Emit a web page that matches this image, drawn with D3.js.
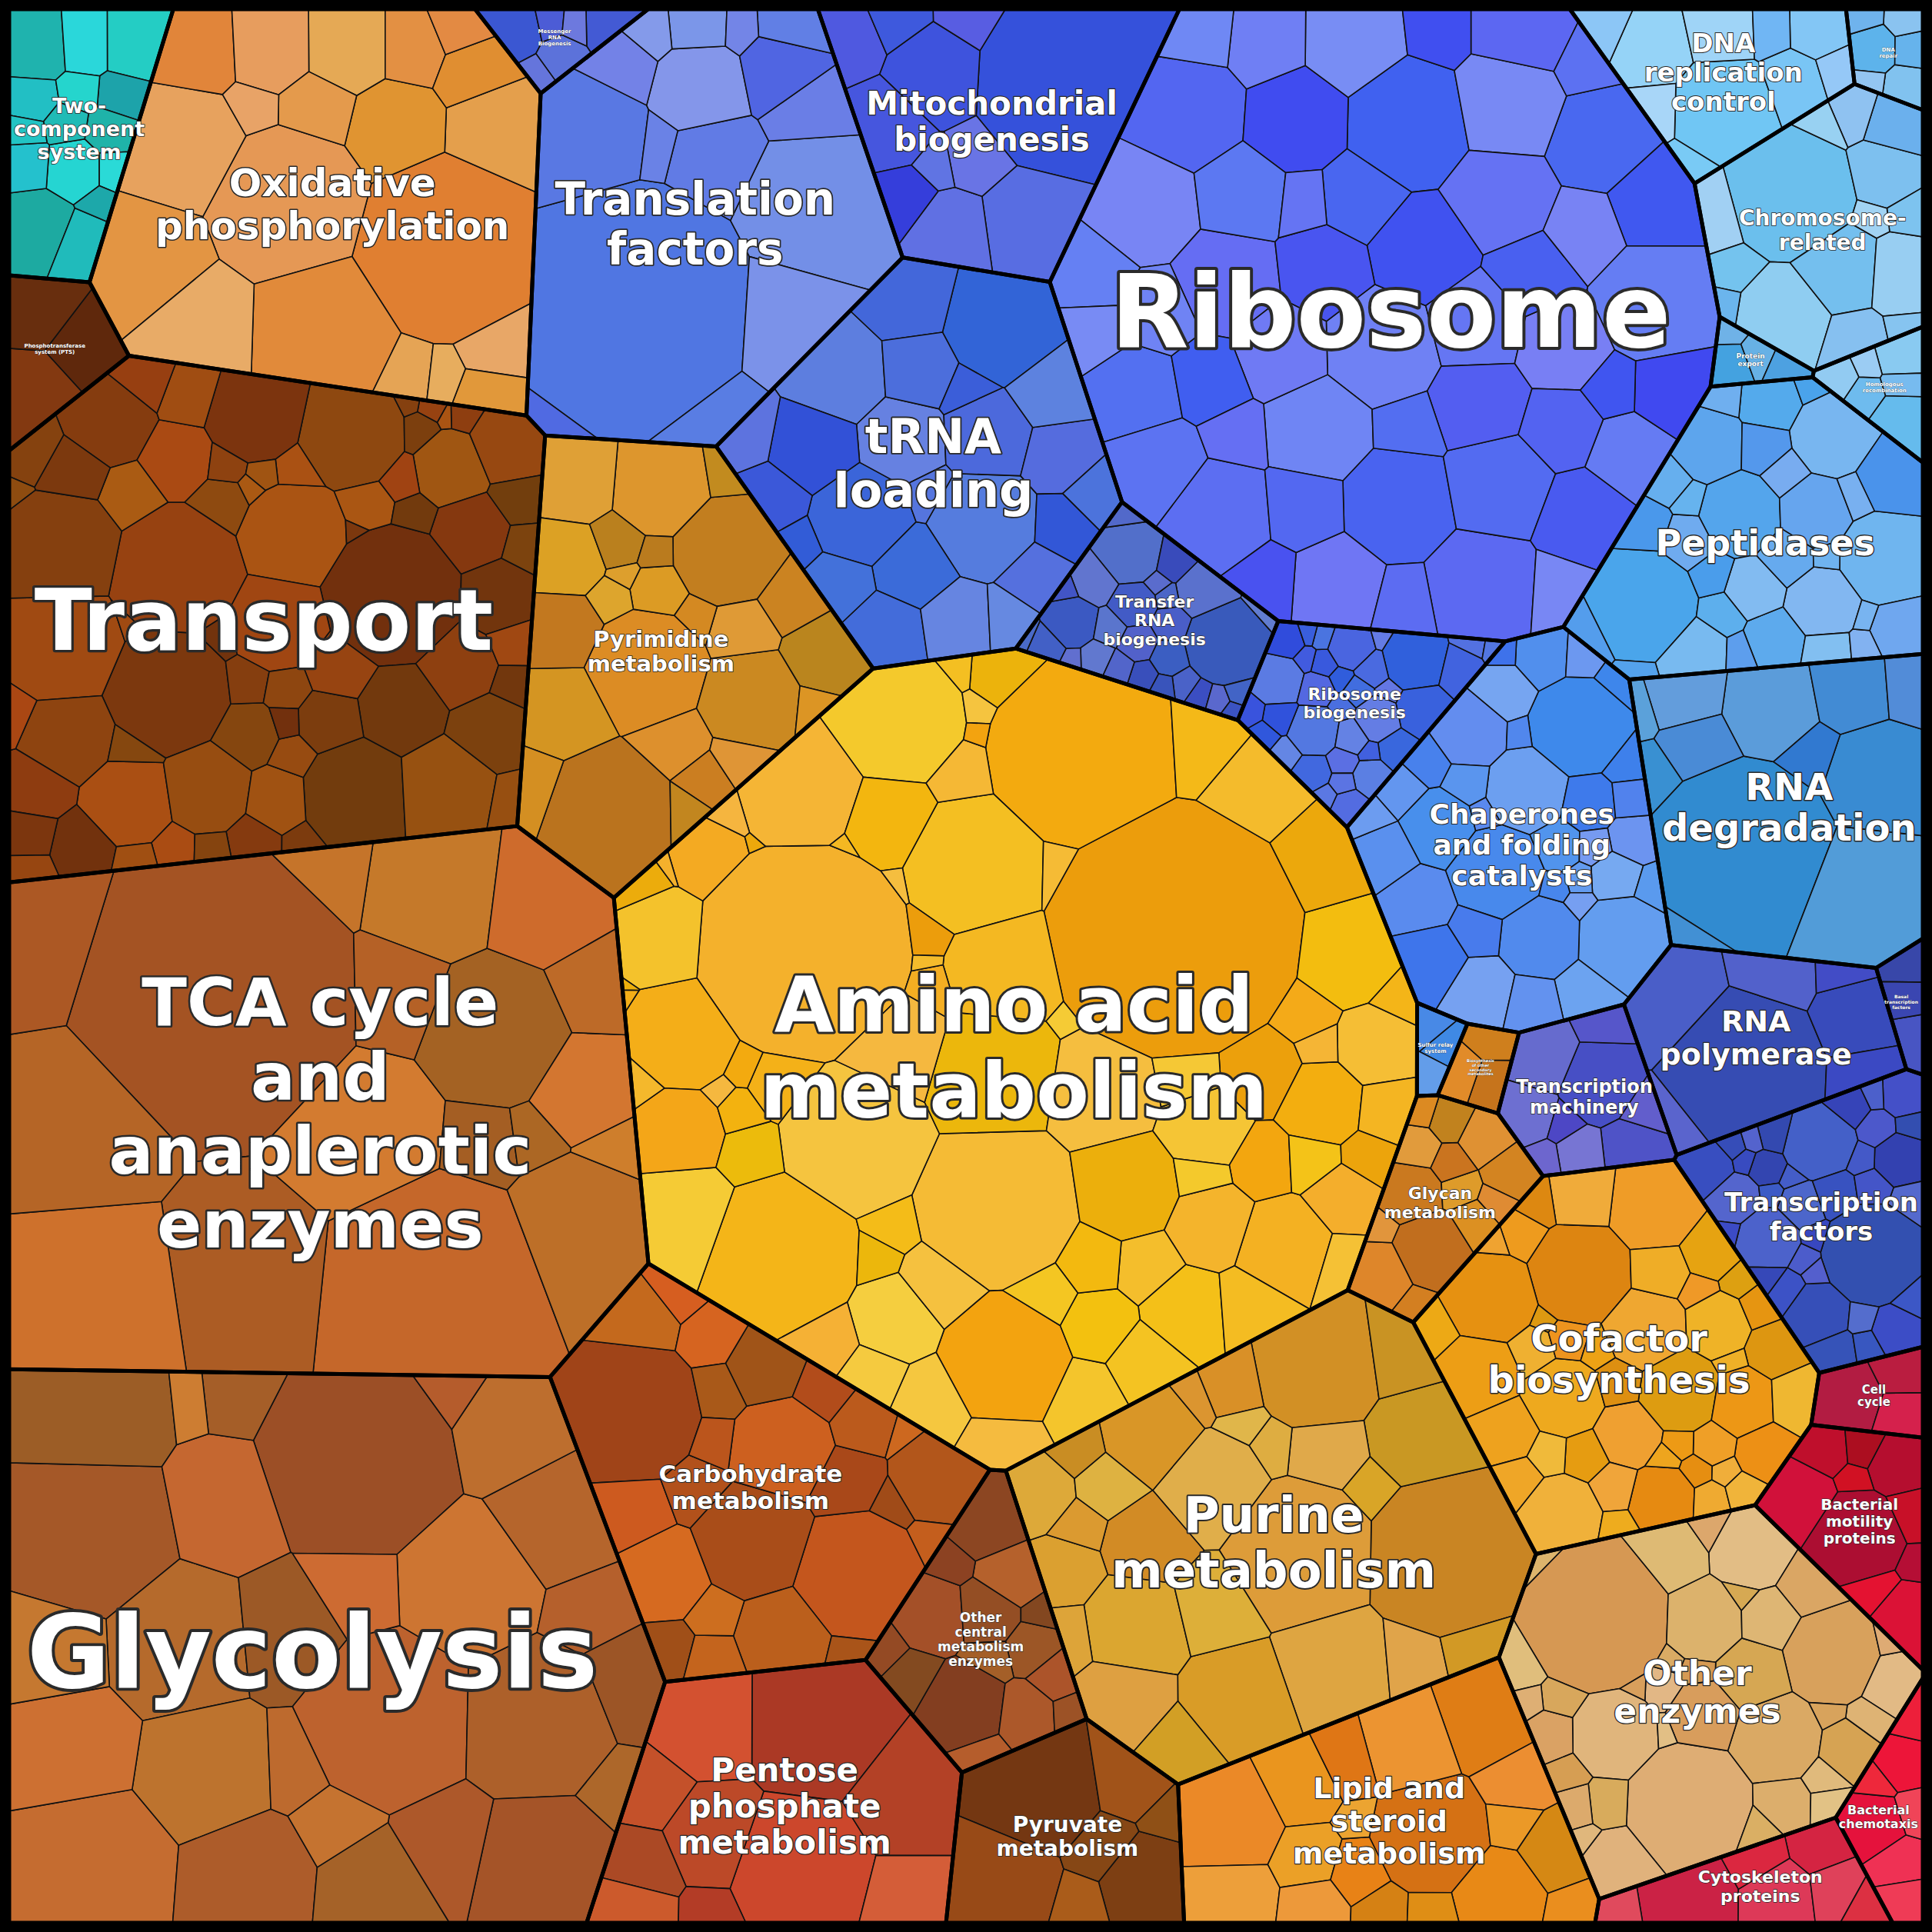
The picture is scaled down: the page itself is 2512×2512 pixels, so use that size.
<!DOCTYPE html>
<html><head><meta charset="utf-8">
<script src="https://cdn.jsdelivr.net/npm/d3@7/dist/d3.min.js"></script>
<style>body{margin:0;background:#000}</style></head>
<body><svg id="c" width="2512" height="2512"></svg>
<script>
// ---------------- DATA ----------------
const categories = ["Two-component system","Oxidative phosphorylation","Transport","TCA cycle and anaplerotic enzymes","Glycolysis","Carbohydrate metabolism","Pentose phosphate metabolism","Other central metabolism enzymes","Pyruvate metabolism","Pyrimidine metabolism","Amino acid metabolism","Purine metabolism","Lipid and steroid metabolism","Cofactor biosynthesis","Glycan metabolism","Biosynthesis of other secondary metabolites","Other enzymes","Translation factors","Mitochondrial biogenesis","Messenger RNA Biogenesis","tRNA loading","Ribosome","Transfer RNA biogenesis","Ribosome biogenesis","Chaperones and folding catalysts","Peptidases","RNA degradation","DNA replication control","Chromosome-related","Homologous recombination","DNA repair","Protein export","RNA polymerase","Transcription machinery","Transcription factors","Basal transcription factors","Sulfur relay system","Phosphotransferase system (PTS)","Cell cycle","Bacterial motility proteins","Bacterial chemotaxis","Cytoskeleton proteins"];
const values = [1.1,5,8,10.5,11,3.6,2.6,1.2,1.3,3.5,16,5.5,2.6,3.5,0.8,0.15,3.6,4.2,2.2,0.25,3.6,11,1.0,1.0,3.0,2.6,2.6,1.0,1.6,0.25,0.2,0.12,1.3,0.7,1.6,0.12,0.1,0.45,0.25,0.8,0.4,0.6];
const colors = ["#22c4c4","#e49a4c","#8e4410","#bd6a28","#b5652c","#bb5a1c","#c44c2a","#9c5226","#8f4c16","#d48f22","#f4b822","#dba030","#ea8e1e","#eea21e","#dc8a22","#e09020","#dcae6c","#6a82e6","#4f5ee0","#5464d8","#4c6edc","#5c6ef2","#4a62c8","#4a6ae0","#5a90ee","#66aaee","#4a90d6","#8ccaf6","#86c4f0","#80c0f0","#78b8ee","#5ea6e4","#4250c6","#5e5ecc","#3c52c6","#4048c0","#5a90e8","#7a3a10","#cc2040","#c8102e","#ee2842","#dc3048"];
const leafValues = [
 "5 4 4 3 3 3 2 2 2 2 1.5 1.5 1 1 1",
 "14 10 8 6 6 5 4 4 3 3 3 2 2 2 2 1.5 1.5 1 1 1",
 "10 9 8 7 7 6 6 6 5 5 5 4 4 4 4 4 3 3 3 3 3 3 3 2 2 2 2 2 2 2 2 2 1.5 1.5 1.5 1.5 1.5 1 1 1 1 1 1 1 1 1 1 .8 .8 .8 .8 .8 .6 .6 .6 .6 .6 .5 .5 .5 .5 .4 .4 .4 .4 .3 .3 .3 .3",
 "22 14 10 9 8 7 6 6 5 4 4 3 3 2 2 1.5 1 1",
 "14 11 10 9 9 8 8 7 7 7 6 6 6 5 5 5 4 4 4 3 3 3 2 2 2 1.5 1 1",
 "8 6 5 4 3 3 3 2 2 2 2 1.5 1.5 1.5 1 1 1 1 1 .8 .8 .6 .6 .5 .5",
 "9 8 6 5 4 3 2 2 1.5 1",
 "4 3 3 2 2 2 1.5 1.5 1 1 1 .8 .8 .6 .6",
 "8 6 4 3 2 1.5 1",
 "9 7 6 5 5 4 4 3 3 3 2 2 2 1.5 1.5 1.5 1 1 1 1 .8 .8 .6 .6 .5",
 "30 22 16 12 11 10 9 8 8 7 7 6 6 6 5 5 5 5 4 4 4 4 4 4 3 3 3 3 3 3 3 3 3 2 2 2 2 2 2 2 2 2 2 2 2 1.5 1.5 1.5 1.5 1.5 1.5 1.5 1.5 1 1 1 1 1 1 1 1 1 1 1 1 .8 .8 .8 .8 .8 .6 .6 .6 .6 .6 .5 .5 .5 .5 .4 .4 .4 .4 .3 .3 .3 .3",
 "10 8 6 5 5 4 4 4 3 3 3 3 2 2 2 2 2 1.5 1.5 1.5 1 1 1 1 .8 .8 .6 .6",
 "6 5 4 4 3 3 3 2 2 2 2 1.5 1.5 1 1 1 .8 .8",
 "5 4 4 3 3 3 3 3 2 2 2 2 2 2 1.5 1.5 1.5 1.5 1.5 1 1 1 1 1 1 1 .8 .8 .8 .8 .6 .6 .6 .6 .5 .5 .5 .4 .4 .4 .3 .3 .3 .3",
 "3 2 2 1.5 1.5 1 1 1 .8 .8 .6 .6 .5 .5",
 "1 1 1",
 "14 10 6 5 5 4 4 3 3 3 3 2 2 2 2 2 1.5 1.5 1.5 1 1 1 1 1 .8 .8 .8 .6 .6 .6 .5 .5 .4 .4 .4 .3 .3 .3",
 "20 8 5 4 3 3 2 2 1.5 1.5 1 1 .8 .8 .6 .6",
 "14 5 4 3 3 2 2 1.5 1 1 .8",
 "3 2 2 1 1 1",
 "7 6 5 5 4 4 4 4 3 3 3 3 3 3 2 2 2 2 2 1.5 1.5 1 1 1",
 "7 7 6 6 6 6 6 5 5 5 5 5 5 5 5 5 4 4 4 4 4 4 4 4 4 4 4 4 3 3 3 3 3 3 3 3 3 3 3 3 2 2 2 2 2 2 2 2 1.5 1.5 1.5",
 "5 3 2 2 1.5 1.5 1 1 1 1 .8 .8 .8 .6 .6 .6 .5 .5 .5 .4 .4 .4 .4 .3 .3 .3 .3 .3",
 "3 2 2 2 1.5 1.5 1.5 1 1 1 1 1 .8 .8 .8 .8 .6 .6 .6 .6 .5 .5 .5 .5 .4 .4 .4 .4 .4 .3 .3 .3 .3 .3",
 "6 5 5 4 4 3 3 3 3 3 2 2 2 2 2 2 1.5 1.5 1.5 1.5 1 1 1 1 1 1 .8 .8 .8 .6 .6 .6 .5 .5 .4 .4",
 "7 5 4 4 3 3 3 3 2 2 2 2 2 1.5 1.5 1.5 1.5 1 1 1 1 1 .8 .8 .8 .6 .6 .6 .5 .5 .4 .4",
 "22 12 8 6 4 3 3 2 2 1.5 1 1",
 "5 3 2 2 1.5 1 1 1 .8 .6",
 "10 5 4 3 3 2 2 2 1.5 1.5 1 1 .8 .6 .5",
 "2 1.5 1 1 .8 .6",
 "2 1.5 1 1 .8 .6",
 "1.5 1 1 .6",
 "14 6 4 3 2 1.5 1",
 "6 4 3 3 2 2 1.5 1 1",
 "8 4 3 3 2 2 2 2 1.5 1.5 1.5 1.5 1 1 1 1 1 1 .8 .8 .8 .8 .6 .6 .6 .6 .5 .5 .5 .4 .4 .4 .3 .3 .3",
 "1 1 1",
 "1 1 1",
 "1 1 1",
 "2 1 1",
 "5 3 2 2 1.5 1 1 .8 .6 .6",
 "3 2 2 1.5 1 1 .8",
 "4 3 2 2 1.5 1 1"
];
const labelLines = [["Two-","component","system"],["Oxidative","phosphorylation"],["Transport"],["TCA cycle","and","anaplerotic","enzymes"],["Glycolysis"],["Carbohydrate","metabolism"],["Pentose","phosphate","metabolism"],["Other","central","metabolism","enzymes"],["Pyruvate","metabolism"],["Pyrimidine","metabolism"],["Amino acid","metabolism"],["Purine","metabolism"],["Lipid and","steroid","metabolism"],["Cofactor","biosynthesis"],["Glycan","metabolism"],["Biosynthesis","of other","secondary","metabolites"],["Other","enzymes"],["Translation","factors"],["Mitochondrial","biogenesis"],["Messenger","RNA","Biogenesis"],["tRNA","loading"],["Ribosome"],["Transfer","RNA","biogenesis"],["Ribosome","biogenesis"],["Chaperones","and folding","catalysts"],["Peptidases"],["RNA","degradation"],["DNA","replication","control"],["Chromosome-","related"],["Homologous","recombination"],["DNA","repair"],["Protein","export"],["RNA","polymerase"],["Transcription","machinery"],["Transcription","factors"],["Basal","transcription","factors"],["Sulfur relay","system"],["Phosphotransferase","system (PTS)"],["Cell","cycle"],["Bacterial","motility","proteins"],["Bacterial","chemotaxis"],["Cytoskeleton","proteins"]];

// ---------------- LAYOUT HINTS / STYLE ----------------
const seedHints = [[.05,.04],[.12,.14],[.14,.30],[.15,.55],[.17,.85],[.40,.75],[.43,.93],[.52,.86],[.57,.96],[.33,.33],[.52,.55],[.66,.83],[.68,.95],[.84,.72],[.80,.62],[.785,.585],[.88,.87],[.28,.07],[.47,.07],[.16,.02],[.47,.22],[.70,.16],[.60,.37],[.67,.41],[.78,.44],[.91,.28],[.92,.39],[.94,.04],[.93,.13],[.965,.20],[.975,.085],[.86,.23],[.93,.51],[.83,.55],[.93,.62],[.985,.44],[.77,.535],[.02,.21],[.985,.82],[.97,.88],[.975,.94],[.94,.98]];
const labelSize = [27,50,110,86,132,31,42,17,28,29,100,64,38,48,22,5,44,58,42,7,62,132,22,22,36,46,48,34,28,7,7,9,38,24,34,6,7,7,15,20,16,22];

const W=2512, M=12;
const svg=d3.select("#c");
svg.append("rect").attr("width",W).attr("height",W).attr("fill","#000");

function clip(poly,a,b,c){
  const out=[]; const n=poly.length; if(!n) return out;
  for(let k=0;k<n;k++){
    const P=poly[k], Q=poly[(k+1)%n];
    const fp=a*P[0]+b*P[1]-c, fq=a*Q[0]+b*Q[1]-c;
    if(fp<=0) out.push(P);
    if((fp<0&&fq>0)||(fp>0&&fq<0)){const t=fp/(fp-fq); out.push([P[0]+t*(Q[0]-P[0]),P[1]+t*(Q[1]-P[1])]);}
  }
  return out;
}
function power(sites,w,bound){
  return sites.map((s,i)=>{
    let p=bound;
    for(let j=0;j<sites.length&&p.length>2;j++){ if(j===i) continue;
      const t=sites[j];
      p=clip(p,2*(t[0]-s[0]),2*(t[1]-s[1]),t[0]*t[0]+t[1]*t[1]-s[0]*s[0]-s[1]*s[1]-w[j]+w[i]);
    }
    return p;
  });
}
function treemap(bound,vals,sites,iters,move){
  const A=Math.abs(d3.polygonArea(bound)), tot=d3.sum(vals);
  const tgt=vals.map(v=>v/tot*A); const w=vals.map(()=>0);
  let cells;
  for(let it=0;it<iters;it++){
    cells=power(sites,w,bound);
    cells.forEach((c,i)=>{
      const a=c.length>2?Math.abs(d3.polygonArea(c)):0;
      if(a>0&&move>0){const ce=d3.polygonCentroid(c); sites[i]=[sites[i][0]+move*(ce[0]-sites[i][0]),sites[i][1]+move*(ce[1]-sites[i][1])];}
      w[i]+= (tgt[i]-a)/Math.PI*0.9;
    });
  }
  return power(sites,w,bound);
}
const outer=[[M,M],[W-M,M],[W-M,W-M],[M,W-M]];
const S=W-2*M;
const topSites=seedHints.map(h=>[M+h[0]*S,M+h[1]*S]);
const topCells=treemap(outer,values,topSites,220,0.04);

let seed=12345; const rnd=()=>{seed=(seed*16807)%2147483647;return (seed-1)/2147483646;};
const gLeaf=svg.append("g"), gCat=svg.append("g"), gLab=svg.append("g");
topCells.forEach((cell,ci)=>{
  if(cell.length<3) return;
  const lv=leafValues[ci].split(" ").map(Number);
  const [x0,x1]=d3.extent(cell,d=>d[0]), [y0,y1]=d3.extent(cell,d=>d[1]);
  const sites=[];
  while(sites.length<lv.length){const p=[x0+rnd()*(x1-x0),y0+rnd()*(y1-y0)]; if(d3.polygonContains(cell,p)) sites.push(p);}
  const lc=treemap(cell,lv,sites,45,1);
  const base=d3.hsl(colors[ci]);
  lc.forEach((c,i)=>{ if(c.length<3) return;
    const h=((i*37)%9-4)/4, l=((i*53)%7-3)/3;
    const col=d3.hsl(base.h+h*4,base.s,Math.max(0,Math.min(1,base.l+l*0.06)));
    gLeaf.append("path").attr("d","M"+c.join("L")+"Z").attr("fill",col.toString()).attr("stroke","#111").attr("stroke-width",1.6).attr("stroke-linejoin","round");
  });
  gCat.append("path").attr("d","M"+cell.join("L")+"Z").attr("fill","none").attr("stroke","#000").attr("stroke-width",5).attr("stroke-linejoin","round");
  const ce=d3.polygonCentroid(cell), fs=labelSize[ci], lines=labelLines[ci];
  const t=gLab.append("text").attr("text-anchor","middle").attr("font-family","DejaVu Sans").attr("font-weight","bold")
    .attr("font-size",fs).attr("fill","#fff").attr("stroke","#2a2a2a").attr("stroke-width",Math.max(0.4,fs*0.06)).attr("paint-order","stroke")
    .attr("stroke-linejoin","round");
  const lh=fs*1.12, top=ce[1]-(lines.length-1)*lh/2+fs*0.35;
  const spans=lines.map((s,k)=>t.append("tspan").attr("y",top+k*lh).text(s));
  const wmax=d3.max(spans,s=>s.node().getComputedTextLength());
  const x=Math.max(M+wmax/2+6,Math.min(W-M-wmax/2-6,ce[0]));
  spans.forEach(s=>s.attr("x",x));
});
svg.append("rect").attr("x",M/2).attr("y",M/2).attr("width",W-M).attr("height",W-M).attr("fill","none").attr("stroke","#000").attr("stroke-width",M);
</script></body></html>
